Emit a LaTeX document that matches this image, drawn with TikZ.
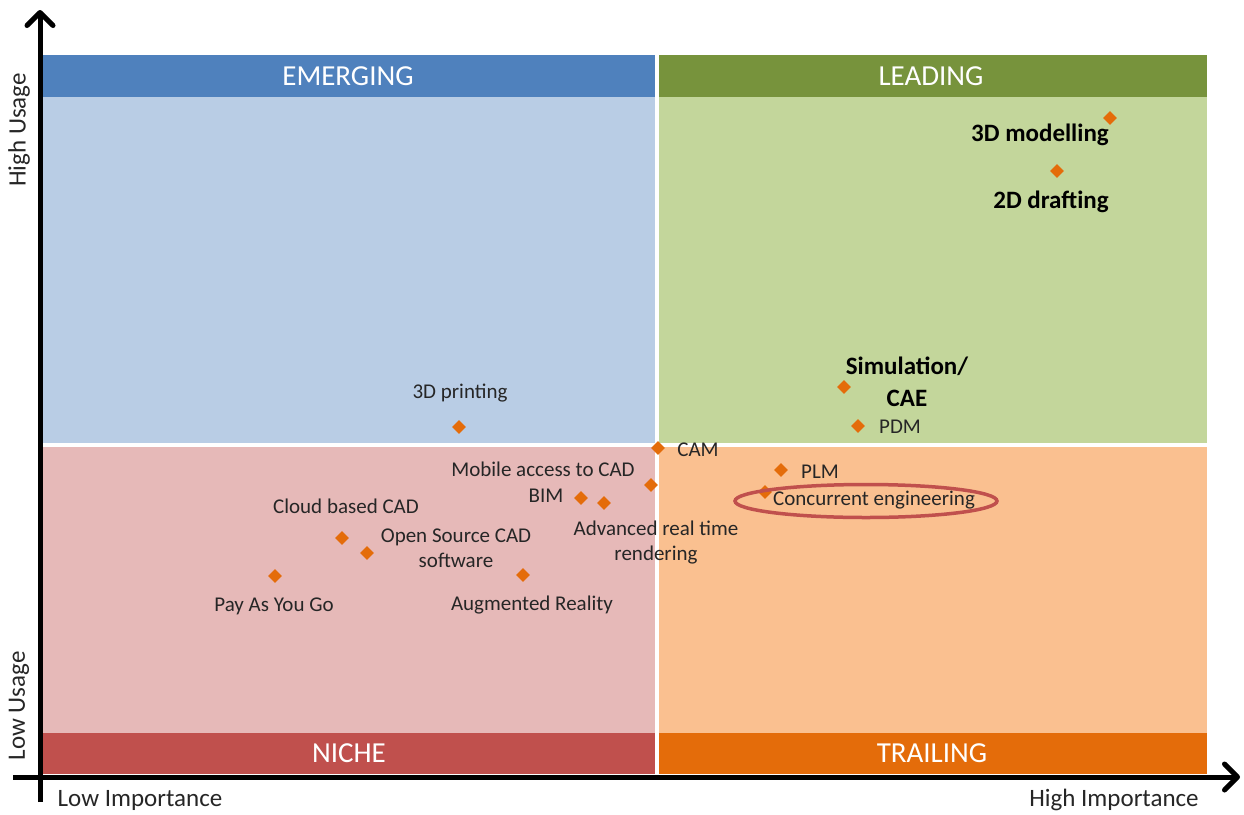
\documentclass[tikz,border=0pt]{standalone}
\usepackage{fontspec}
\setmainfont{Carlito}
\usetikzlibrary{shapes.geometric,arrows.meta}
\definecolor{embar}{HTML}{4F81BD}
\definecolor{embody}{HTML}{B9CDE5}
\definecolor{ldbar}{HTML}{77933C}
\definecolor{ldbody}{HTML}{C3D69B}
\definecolor{nibar}{HTML}{C0504D}
\definecolor{nibody}{HTML}{E6B9B8}
\definecolor{trbar}{HTML}{E46C0A}
\definecolor{trbody}{HTML}{FAC090}
\definecolor{mk}{HTML}{E46C0A}
\definecolor{txt}{HTML}{262626}
\definecolor{ring}{HTML}{C0504D}
\tikzset{
  bartext/.style={text=white,font=\fontsize{29}{32}\selectfont},
  axislbl/.style={text=txt,font=\fontsize{25}{28}\selectfont},
  lbl/.style={text=txt,font=\fontsize{21}{25}\selectfont,inner sep=0pt,align=center},
  blbl/.style={text=black,font=\fontsize{25}{32}\selectfont\bfseries,inner sep=0pt,align=center},
  pt/.style={shape=diamond,fill=mk,inner sep=0pt,minimum width=14pt,minimum height=14pt},
  axisline/.style={line width=5pt,-{Straight Barb[length=13pt,width=26pt,line width=5pt,round]}}
}
\begin{document}
\begin{tikzpicture}[x=1pt,y=-1pt]
\useasboundingbox[fill=white] (0,0) rectangle (1244,814);
% quadrant bodies
\fill[embody] (42,97) rectangle (655,443);
\fill[ldbody] (659,97) rectangle (1207,443);
\fill[nibody] (42,447) rectangle (655,733);
\fill[trbody] (659,447) rectangle (1207,733);
% bars
\fill[embar] (42,55) rectangle (655,97);
\fill[ldbar] (659,55) rectangle (1207,97);
\fill[nibar] (42,733) rectangle (655,774);
\fill[trbar] (659,733) rectangle (1207,774);
\node[bartext] (em) at (348,76) {EMERGING};
\node[bartext] (ld) at (931,76) {LEADING};
\node[bartext] (ni) at (349,753) {NICHE};
\node[bartext] (tr) at (932,753) {TRAILING};
% axes
\coordinate (ybot) at (40,802);
\coordinate (ytop) at (40,10);
\coordinate (xleft) at (13,777);
\coordinate (xright) at (1240,777);
\draw[axisline] (ybot) -- (ytop);
\draw[axisline] (xleft) -- (xright);
\node[axislbl,rotate=90] (hu) at (19,130) {High Usage};
\node[axislbl,rotate=90] (lu) at (19,706) {Low Usage};
\node[axislbl] (li) at (140,800) {Low Importance};
\node[axislbl] (hi) at (1114,800) {High Importance};
% points
\node[pt] (p3dm) at (1110,118) {};
\node[blbl] (l3dm) at (1040,135) {3D modelling};
\node[pt] (p2dd) at (1057,171) {};
\node[blbl] (l2dd) at (1051,202) {2D drafting};
\node[pt] (psim) at (844,387) {};
\node[blbl] (lsim) at (907,382) {Simulation/\\CAE};
\node[pt] (ppdm) at (858,426) {};
\node[lbl] (lpdm) at (900,427) {PDM};
\node[pt] (p3dp) at (459,427) {};
\node[lbl] (l3dp) at (460,393) {3D printing};
\node[pt] (pcam) at (658,448) {};
\node[lbl] (lcam) at (698,450) {CAM};
\node[pt] (pmob) at (651,485) {};
\node[lbl] (lmob) at (543,469) {Mobile access to CAD};
\node[pt] (pbim) at (581,498) {};
\node[lbl] (lbim) at (546,496) {BIM};
\node[pt] (parr) at (604,503) {};
\node[lbl,text depth=0pt] (larr) at (656,541) {Advanced real time\\rendering};
\node[pt] (pcld) at (342,538) {};
\node[lbl] (lcld) at (346,506) {Cloud based CAD};
\node[pt] (posc) at (367,553) {};
\node[lbl] (losc) at (456,548) {Open Source CAD\\software};
\node[pt] (ppay) at (275,576) {};
\node[lbl] (lpay) at (274,606) {Pay As You Go};
\node[pt] (paug) at (523,575) {};
\node[lbl] (laug) at (532,605) {Augmented Reality};
\node[pt] (pplm) at (781,470) {};
\node[lbl] (lplm) at (820,472) {PLM};
\node[pt] (pce) at (765,492) {};
\node[lbl] (lce) at (874,500) {Concurrent engineering};
\node[draw=ring,line width=3.5pt,ellipse,minimum width=262pt,minimum height=33pt,inner sep=0pt] (ring) at (866,501) {};
\end{tikzpicture}
\end{document}
